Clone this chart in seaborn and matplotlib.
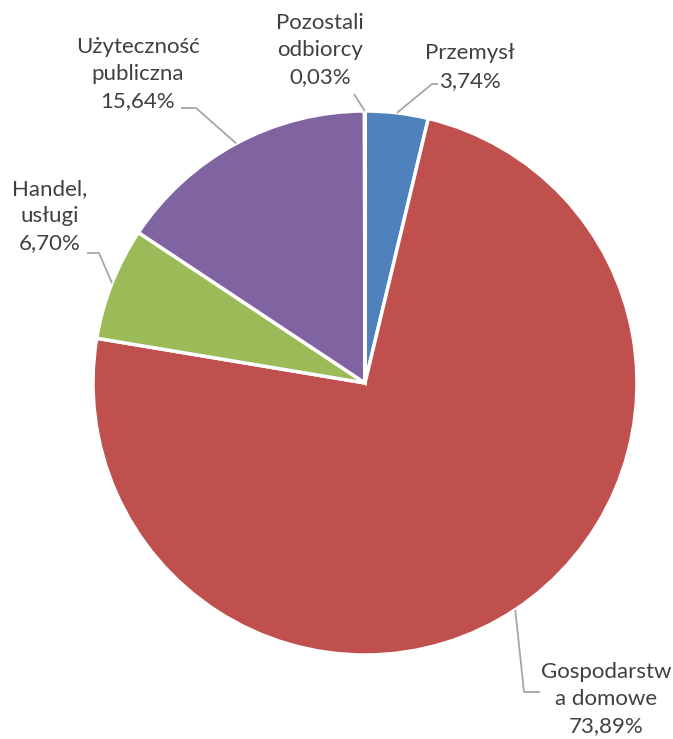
import numpy as np
import matplotlib
matplotlib.use("Agg")
import matplotlib.pyplot as plt
import seaborn as sns

# Energy consumption share by customer group
categories = ["Przemysł", "Gospodarstwa domowe", "Handel, usługi",
              "Użyteczność publiczna", "Pozostali odbiorcy"]
shares = [3.74, 73.89, 6.70, 15.64, 0.03]
label_lines = [["Przemysł"], ["Gospodarstw", "a domowe"], ["Handel,", "usługi"],
               ["Użyteczność", "publiczna"], ["Pozostali", "odbiorcy"]]
colors = ["#4F81BD", "#C0504D", "#9BBB59", "#8064A2", "#4BACC6"]

sns.set_theme(style="white")
plt.rcParams["font.family"] = ["Lato", "DejaVu Sans"]

W, H = 673, 739
fig = plt.figure(figsize=(W / 100, H / 100), dpi=100)
ax = fig.add_axes([0, 0, 1, 1])
ax.set_xlim(0, W)
ax.set_ylim(0, H)
ax.set_aspect("equal")
ax.axis("off")

cx, cy, r = 365, H - 383, 272
wedges, _ = ax.pie(shares, colors=colors, startangle=90, counterclock=False,
                   center=(cx, cy), radius=r,
                   wedgeprops=dict(edgecolor="white", linewidth=2.5))
ax.set_xlim(0, W)
ax.set_ylim(0, H)

def fmt(v):
    return f"{v:.2f}".replace(".", ",") + "%"

# leader elbow points and label centres, in pixel coordinates from the top-left
layout = [
    dict(path=[(432, 84), (438, 84)], text=(470, 67)),
    dict(path=[(524, 692), (540, 692)], text=(606, 699)),
    dict(path=[(99, 253), (87, 253)], text=(50, 216)),
    dict(path=[(196, 108), (181, 108)], text=(138, 74)),
    dict(path=[(354, 94)], text=(320, 50)),
]

text_color = "#404040"
line_color = "#A6A6A6"
for w, lines, v, lay in zip(wedges, label_lines, shares, layout):
    mid = np.deg2rad((w.theta1 + w.theta2) / 2)
    sx, sy = cx + r * np.cos(mid), cy + r * np.sin(mid)
    xs = [sx] + [p[0] for p in lay["path"]]
    ys = [sy] + [H - p[1] for p in lay["path"]]
    ax.plot(xs, ys, color=line_color, lw=1.3, solid_capstyle="butt")
    tx, ty = lay["text"]
    ax.text(tx, H - ty, "\n".join(lines + [fmt(v)]), ha="center", va="center",
            fontsize=16, color=text_color, linespacing=1.45)

fig.savefig("out.png", dpi=100, facecolor="white")
